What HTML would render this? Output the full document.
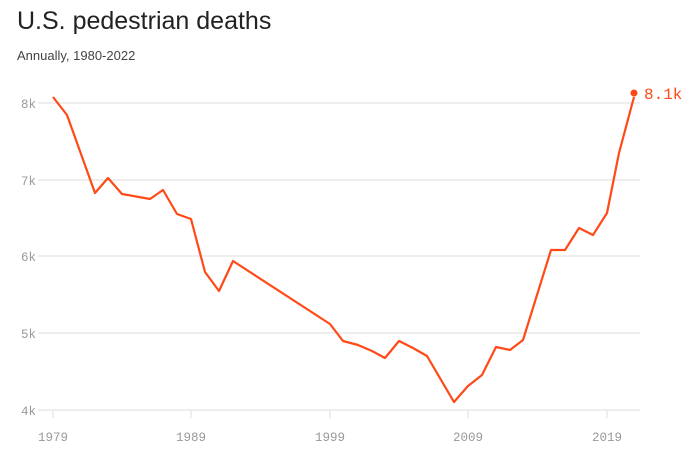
<!DOCTYPE html>
<html><head><style>
body{margin:0;background:#fff;width:700px;height:455px;overflow:hidden}
</style></head><body>
<svg width="700" height="455" xmlns="http://www.w3.org/2000/svg" font-family="Liberation Sans, sans-serif">
<text x="17" y="29" font-size="25" fill="#222">U.S. pedestrian deaths</text>
<text x="17" y="60" font-size="13" fill="#444">Annually, 1980-2022</text>
<g stroke="#e8e8e8" stroke-width="1.5">
<line x1="38" x2="640" y1="103" y2="103"/><line x1="38" x2="640" y1="180" y2="180"/>
<line x1="38" x2="640" y1="256" y2="256"/><line x1="38" x2="640" y1="333" y2="333"/>
<line x1="38" x2="640" y1="410" y2="410"/>
<line x1="53" x2="53" y1="410" y2="418"/><line x1="191" x2="191" y1="410" y2="418"/>
<line x1="330" x2="330" y1="410" y2="418"/><line x1="468" x2="468" y1="410" y2="418"/>
<line x1="607" x2="607" y1="410" y2="418"/>
</g>
<g font-family="Liberation Mono, monospace" font-size="12.5" fill="#999">
<text x="36" y="108" text-anchor="end">8k</text><text x="36" y="185" text-anchor="end">7k</text>
<text x="36" y="261" text-anchor="end">6k</text><text x="36" y="338" text-anchor="end">5k</text>
<text x="36" y="415" text-anchor="end">4k</text>
<g text-anchor="middle"><text x="53" y="441">1979</text><text x="191" y="441">1989</text><text x="330" y="441">1999</text><text x="468" y="441">2009</text><text x="607" y="441">2019</text></g>
</g>
<polyline fill="none" stroke="#ff4a17" stroke-width="2.2" stroke-linejoin="round" points="53,97 67,115 95,193 108,178 122,194 150,199 163,190 177,214 191,219 205,272 219,291 233,261 330,324 343,341 358,345 372,351 385,358 399,341 413,348 427,356 454,402 468,386 482,375 496,347 510,350 523,340 551,250 565,250 579,228 593,235 607,213 619,153 634,97"/>
<circle cx="634" cy="93" r="3.5" fill="#ff4a17"/>
<text x="644" y="99" font-family="Liberation Mono, monospace" font-size="16" fill="#ff4a17">8.1k</text>
</svg>
</body></html>
